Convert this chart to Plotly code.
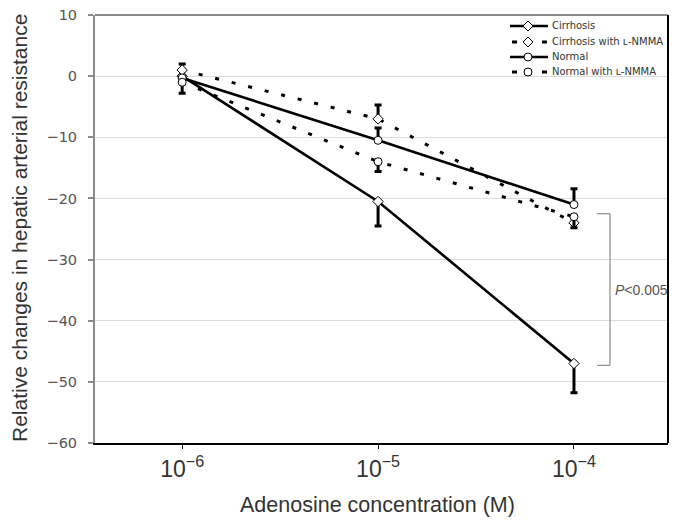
import plotly.graph_objects as go

# ---- data ----
conc = [1e-6, 1e-5, 1e-4]
tick_vals = [1e-6, 1e-5, 1e-4]
tick_labels = ["10<sup>−6</sup>", "10<sup>−5</sup>", "10<sup>−4</sup>"]
y_ticks = [10, 0, -10, -20, -30, -40, -50, -60]
y_tick_labels = ["10", "0", "−10", "−20", "−30", "−40", "−50", "−60"]

cirrhosis = [0.0, -20.5, -47.0]
cirrhosis_err_minus = [0.8, 4.0, 4.8]

cirrhosis_lnmma = [1.0, -7.0, -24.0]
cirrhosis_lnmma_err_plus = [1.0, 2.3, 0.0]

normal = [-0.3, -10.5, -21.0]
normal_err_plus = [0.0, 2.0, 2.6]

normal_lnmma = [-1.0, -14.0, -23.0]
normal_lnmma_err_minus = [1.8, 1.6, 1.8]

series_names = ["Cirrhosis", "Cirrhosis with ʟ-NMMA", "Normal", "Normal with ʟ-NMMA"]
x_title = "Adenosine concentration (M)"
y_title = "Relative changes in hepatic arterial resistance"
p_text = "<i>P</i><0.005"
p_bracket = [-22.5, -47.3]

# page has an 8px body margin; plot area in page pixels: x 95..668, y 15..443
OFF = 8
W, H = 679 - OFF, 528 - OFF
L, T = 95 - OFF, 15 - OFF
R, B = W - (668 - OFF), H - (443 - OFF)
PX0, PX1, PY0, PY1 = 95, 668, 15, 443


def px_x(px):
    return (px - PX0) / (PX1 - PX0)


def px_y(py):
    return 1 - (py - PY0) / (PY1 - PY0)


fig = go.Figure()


def add(y, name, dash, symbol, plus=None, minus=None):
    err = dict(type="data", symmetric=False,
               array=plus if plus is not None else [0, 0, 0],
               arrayminus=minus if minus is not None else [0, 0, 0],
               color="black", thickness=3, width=3.5)
    fig.add_trace(go.Scatter(
        x=conc, y=y, name=name, mode="lines+markers",
        line=dict(color="black", width=2.6 if dash is None else 3,
                  dash=dash if dash else "solid"),
        marker=dict(symbol=symbol, size=8, color="white",
                    line=dict(color="black", width=1)),
        error_y=err, showlegend=False))


add(cirrhosis, series_names[0], None, "diamond", minus=cirrhosis_err_minus)
add(cirrhosis_lnmma, series_names[1], "4px,13px", "diamond", plus=cirrhosis_lnmma_err_plus)
add(normal, series_names[2], None, "circle", plus=normal_err_plus)
add(normal_lnmma, series_names[3], "4px,13px", "circle", minus=normal_lnmma_err_minus)

shapes = []
# frame: top gray, right black
shapes.append(dict(type="line", xref="paper", yref="paper", x0=0, x1=1, y0=1, y1=1,
                   line=dict(color="#8a8a8a", width=2), layer="above"))
shapes.append(dict(type="line", xref="paper", yref="paper", x0=1, x1=1, y0=0, y1=1,
                   line=dict(color="black", width=2), layer="above"))
# legend white box
shapes.append(dict(type="rect", xref="paper", yref="paper", x0=px_x(505), x1=0.998,
                   y0=px_y(80), y1=0.997, fillcolor="white", line=dict(width=0), layer="between"))

# manual legend
lx0, lx1, lm, lt = px_x(510), px_x(548), px_x(528), px_x(550)
rows = [px_y(26), px_y(42), px_y(57), px_y(72)]
syms = ["diamond", "diamond", "circle", "circle"]
dashed = [False, True, False, True]
annotations = []
for r, s, d, n in zip(rows, syms, dashed, series_names):
    if not d:
        shapes.append(dict(type="line", xref="paper", yref="paper", x0=lx0, x1=lx1, y0=r, y1=r,
                           line=dict(color="black", width=2.5)))
    else:
        shapes.append(dict(type="line", xref="paper", yref="paper", x0=px_x(512), x1=px_x(517),
                           y0=r, y1=r, line=dict(color="black", width=3)))
        shapes.append(dict(type="line", xref="paper", yref="paper", x0=px_x(542), x1=px_x(547),
                           y0=r, y1=r, line=dict(color="black", width=3)))
    if s == "circle":
        shapes.append(dict(type="circle", xref="paper", yref="paper", xsizemode="pixel",
                           ysizemode="pixel", xanchor=lm, yanchor=r, x0=-4, x1=4, y0=-4, y1=4,
                           fillcolor="white", line=dict(color="black", width=1)))
    else:
        shapes.append(dict(type="path", xref="paper", yref="paper", xsizemode="pixel",
                           ysizemode="pixel", xanchor=lm, yanchor=r,
                           path="M0,5 L5,0 L0,-5 L-5,0 Z",
                           fillcolor="white", line=dict(color="black", width=1)))
    annotations.append(dict(text=n, xref="paper", yref="paper", x=lt, y=r, xanchor="left",
                            yanchor="middle", showarrow=False,
                            font=dict(family="DejaVu Sans", size=10, color="#333333")))

# P bracket
bx_in, bx_out = px_x(597), px_x(610)
for yv in p_bracket:
    shapes.append(dict(type="line", xref="paper", yref="y", x0=bx_in, x1=bx_out,
                       y0=yv, y1=yv, line=dict(color="#8c8c8c", width=1.2)))
shapes.append(dict(type="line", xref="paper", yref="y", x0=bx_out, x1=bx_out,
                   y0=p_bracket[0], y1=p_bracket[1], line=dict(color="#8c8c8c", width=1.2)))
annotations.append(dict(text=p_text, xref="paper", yref="y", x=px_x(613),
                        y=(p_bracket[0] + p_bracket[1]) / 2, xanchor="left", yanchor="middle",
                        showarrow=False,
                        font=dict(family="Liberation Sans", size=14, color="#555555")))

# axis titles
annotations.append(dict(text=y_title, xref="paper", yref="paper", x=px_x(19), y=px_y(228),
                        xanchor="center", yanchor="middle", textangle=-90, showarrow=False,
                        font=dict(family="Liberation Sans", size=21, color="#333333")))
annotations.append(dict(text=x_title, xref="paper", yref="paper", x=px_x(377), y=px_y(505),
                        xanchor="center", yanchor="middle", showarrow=False,
                        font=dict(family="Liberation Sans", size=21.5, color="#333333")))

fig.update_layout(
    width=W, height=H,
    margin=dict(l=L, r=R, t=T, b=B, autoexpand=False),
    paper_bgcolor="white", plot_bgcolor="white",
    shapes=shapes, annotations=annotations,
    xaxis=dict(type="log", range=[-6.445, -3.52], tickvals=tick_vals, ticktext=tick_labels,
               automargin=False, ticklabeloverflow="allow",
               showgrid=False, zeroline=False, showline=True, linecolor="black", linewidth=2,
               ticks="outside", ticklen=4, tickcolor="black", tickwidth=1,
               tickfont=dict(family="Liberation Sans", size=23, color="#333333")),
    yaxis=dict(range=[-60, 10], tickvals=y_ticks, ticktext=y_tick_labels,
               automargin=False, ticklabeloverflow="allow",
               showgrid=True, gridcolor="#dcdcdc", gridwidth=1, zeroline=False,
               showline=True, linecolor="#8a8a8a", linewidth=2,
               ticks="outside", ticklen=5, tickcolor="#8a8a8a", tickwidth=1.5,
               ticklabelstandoff=8,
               tickfont=dict(family="DejaVu Sans", size=14.5, color="#555555")),
)

fig.write_html("out.html")
